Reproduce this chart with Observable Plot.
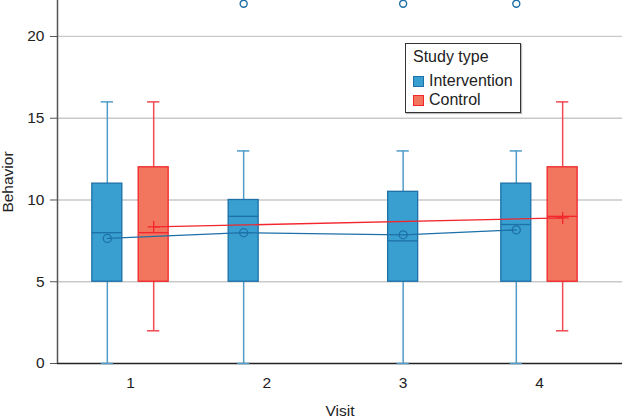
<!DOCTYPE html>
<html>
<head>
<meta charset="utf-8">
<script src="https://cdn.jsdelivr.net/npm/d3@7"></script>
<script src="https://cdn.jsdelivr.net/npm/@observablehq/plot@0.6"></script>
<style>
  body { margin: 0; background: #fff; }
  #wrap { position: relative; width: 622px; height: 417px; font-family: "Liberation Sans", Arial, sans-serif; }
  #legend { position: absolute; left: 405px; top: 43px; width: 116px; height: 70px; border: 1.5px solid #333;
    background: #fff; box-shadow: 1px 1px 1px #bbb; font-size: 16px; color: #222; padding: 0; box-sizing: border-box; }
  #legend .title { position: absolute; left: 7px; top: 3px; line-height: 20px; }
  #legend .item { position: absolute; left: 7px; height: 19px; line-height: 19px; }
  #legend .sw { display: inline-block; width: 11px; height: 11px; margin-right: 5px; vertical-align: -1px; box-sizing: border-box; border: 1px solid; }
</style>
</head>
<body>
<div id="wrap"><div id="legend"></div></div>
<script>
// ---- data ----
const groups = ["Intervention", "Control"];
const visitTicks = [1, 2, 3, 4];
const yTicks = [0, 5, 10, 15, 20];

const boxVisit = [1, 2, 3, 4, 1, 4];
const boxGroup = ["Intervention", "Intervention", "Intervention", "Intervention", "Control", "Control"];
const boxLow = [0, 0, 0, 0, 2, 2];
const boxQ1 = [5, 5, 5, 5, 5, 5];
const boxMedian = [8, 9, 7.5, 8.5, 8, 9];
const boxQ3 = [11, 10, 10.5, 11, 12, 12];
const boxHigh = [16, 13, 13, 13, 16, 16];
const boxMean = [7.65, 8.0, 7.87, 8.17, 8.35, 8.9];

const outlierVisit = [2, 3, 4];
const outlierGroup = ["Intervention", "Intervention", "Intervention"];
const outlierValue = [22, 22, 22];

// ---- layout (dodge of each box from its visit tick) ----
const dodge = [-0.17, -0.17, 0, -0.17, 0.17, 0.17];
const halfBox = 0.11, halfCap = 0.045;
const fillC = {Intervention: "#389fd0", Control: "#f2755e"};
const strokeC = {Intervention: "#1d70a8", Control: "#f2262c"};
const whiskC = {Intervention: "#4f9cc9", Control: "#f24a52"};

const boxes = boxVisit.map((v, i) => ({
  visit: v, group: boxGroup[i], pos: v + dodge[i],
  low: boxLow[i], q1: boxQ1[i], median: boxMedian[i], q3: boxQ3[i], high: boxHigh[i], mean: boxMean[i]
}));
const outliers = outlierVisit.map((v, i) => {
  const b = boxes.find(d => d.visit === v && d.group === outlierGroup[i]);
  return {pos: b.pos, value: outlierValue[i], group: outlierGroup[i]};
});
const inter = boxes.filter(d => d.group === "Intervention");
const ctrl = boxes.filter(d => d.group === "Control");

const xDomain = [0.4645, 4.609];

const chart = Plot.plot({
  width: 622, height: 417,
  marginLeft: 57, marginRight: 0, marginTop: 0, marginBottom: 54,
  style: {fontFamily: "Liberation Sans, Arial, sans-serif", fontSize: "15.5px", color: "#222", background: "transparent"},
  x: {type: "linear", domain: xDomain},
  y: {domain: [0, 22.2]},
  marks: [
    Plot.ruleY([5, 10, 15, 20], {stroke: "#c9c9c9", strokeWidth: 1.3}),
    // axes lines
    Plot.ruleX([xDomain[0]], {stroke: "#555", strokeWidth: 1.5}),
    Plot.ruleY([0], {stroke: "#222", strokeWidth: 1.5}),
    // whiskers
    Plot.ruleX(boxes, {x: "pos", y1: "low", y2: "q1", stroke: d => whiskC[d.group], strokeWidth: 1.5}),
    Plot.ruleX(boxes, {x: "pos", y1: "q3", y2: "high", stroke: d => whiskC[d.group], strokeWidth: 1.5}),
    Plot.ruleY(boxes, {y: "low", x1: d => d.pos - halfCap, x2: d => d.pos + halfCap, stroke: d => whiskC[d.group], strokeWidth: 1.5}),
    Plot.ruleY(boxes, {y: "high", x1: d => d.pos - halfCap, x2: d => d.pos + halfCap, stroke: d => whiskC[d.group], strokeWidth: 1.5}),
    // boxes
    Plot.rect(boxes, {x1: d => d.pos - halfBox, x2: d => d.pos + halfBox, y1: "q1", y2: "q3",
      fill: d => fillC[d.group], stroke: d => strokeC[d.group], strokeWidth: 1.3}),
    Plot.ruleY(boxes, {y: "median", x1: d => d.pos - halfBox, x2: d => d.pos + halfBox, stroke: d => strokeC[d.group], strokeWidth: 1.3}),
    // outliers
    Plot.dot(outliers, {x: "pos", y: "value", r: 3.5, stroke: strokeC.Intervention, fill: "#fff", strokeWidth: 1.4}),
    // mean lines
    Plot.line(inter, {x: "pos", y: "mean", stroke: strokeC.Intervention, strokeWidth: 1.3}),
    Plot.dot(inter, {x: "pos", y: "mean", r: 4, stroke: strokeC.Intervention, fill: "none", strokeWidth: 1.3}),
    Plot.line(ctrl, {x: "pos", y: "mean", stroke: strokeC.Control, strokeWidth: 1.3}),
    Plot.dot(ctrl, {x: "pos", y: "mean", r: 4, symbol: "plus", stroke: strokeC.Control, strokeWidth: 1.3}),
    // axes
    Plot.axisY(yTicks, {tickSize: 7, tickPadding: 6, stroke: "#555", fontSize: 15.5, label: "Behavior", labelAnchor: "center",
      labelArrow: "none", labelOffset: 56}),
    Plot.axisX(visitTicks, {tickSize: 0, tickPadding: 13, fontSize: 15.5, tickFormat: d3.format("d"), label: "Visit", labelAnchor: "center",
      labelArrow: "none", labelOffset: 52})
  ]
});
document.getElementById("wrap").prepend(chart);

// legend
const lg = document.getElementById("legend");
const t = document.createElement("div");
t.className = "title"; t.textContent = "Study type"; lg.appendChild(t);
groups.forEach((g, i) => {
  const it = document.createElement("div");
  it.className = "item"; it.style.top = (27 + i * 19) + "px";
  it.innerHTML = `<span class="sw" style="background:${fillC[g]};border-color:${strokeC[g]}"></span>${g}`;
  lg.appendChild(it);
});
</script>
</body>
</html>
